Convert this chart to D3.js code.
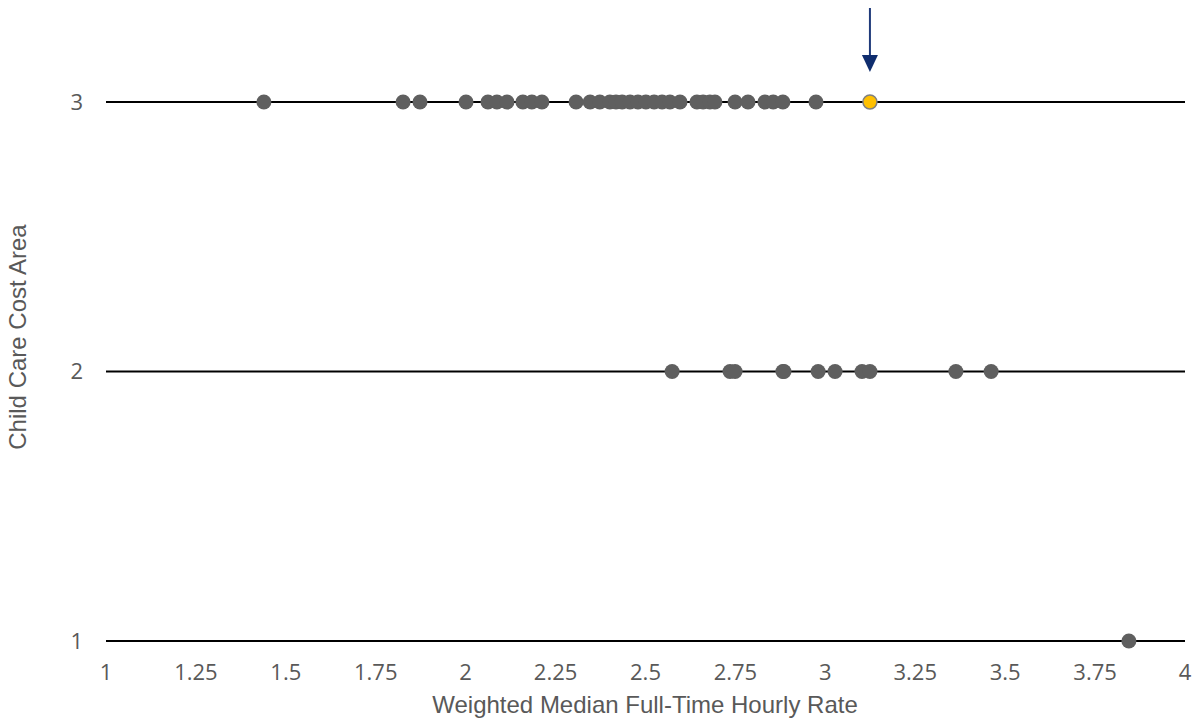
<!DOCTYPE html>
<html>
<head>
<meta charset="utf-8">
<script src="https://cdn.jsdelivr.net/npm/d3@7"></script>
<style>
  body { margin: 0; background: #fff; }
  text { fill: #595959; }
</style>
</head>
<body>
<svg id="chart" width="1199" height="725"></svg>
<script>
// values
const area3 = [1.439, 1.826, 1.873, 2.001, 2.062, 2.087, 2.115, 2.159, 2.184, 2.212,
  2.307, 2.346, 2.373, 2.401, 2.418, 2.435, 2.457, 2.479, 2.501, 2.524, 2.546, 2.568, 2.596,
  2.643, 2.660, 2.679, 2.693, 2.749, 2.785, 2.832, 2.855, 2.882, 2.974];
const area2 = [2.574, 2.735, 2.749, 2.882, 2.885, 2.980, 3.027, 3.102, 3.124, 3.363, 3.461];
const area1 = [3.844];
const highlight = { x: 3.124, y: 3 };
const xTicks = [1, 1.25, 1.5, 1.75, 2, 2.25, 2.5, 2.75, 3, 3.25, 3.5, 3.75, 4];
const yTicks = [1, 2, 3];

const svg = d3.select("#chart");

const x = d3.scaleLinear().domain([1, 4]).range([106, 1185]);
const y = d3.scaleLinear().domain([1, 3]).range([641, 102]);

// horizontal lines at each category
svg.append("g")
  .selectAll("line")
  .data(yTicks)
  .enter()
  .append("line")
  .attr("x1", x(1))
  .attr("x2", x(4))
  .attr("y1", d => y(d))
  .attr("y2", d => y(d))
  .attr("stroke", "#000")
  .attr("stroke-width", 2);

// y tick labels
svg.append("g")
  .selectAll("text")
  .data(yTicks)
  .enter()
  .append("text")
  .attr("x", 83)
  .attr("y", d => y(d))
  .attr("dy", "0.35em")
  .attr("text-anchor", "end")
  .attr("font-family", "'Open Sans', sans-serif")
  .attr("font-size", 22)
  .text(d => d);

// x tick labels
svg.append("g")
  .selectAll("text")
  .data(xTicks)
  .enter()
  .append("text")
  .attr("x", d => x(d))
  .attr("y", 680)
  .attr("text-anchor", "middle")
  .attr("font-family", "'Open Sans', sans-serif")
  .attr("font-size", 22)
  .text(d => d);

// points
const points = [];
area3.forEach(v => points.push({ x: v, y: 3 }));
area2.forEach(v => points.push({ x: v, y: 2 }));
area1.forEach(v => points.push({ x: v, y: 1 }));

svg.append("g")
  .selectAll("circle")
  .data(points)
  .enter()
  .append("circle")
  .attr("cx", d => x(d.x))
  .attr("cy", d => y(d.y))
  .attr("r", 7.5)
  .attr("fill", "#5f5f5f");

svg.append("circle")
  .attr("cx", x(highlight.x))
  .attr("cy", y(highlight.y))
  .attr("r", 7)
  .attr("fill", "#ffc000")
  .attr("stroke", "#7f7f7f")
  .attr("stroke-width", 1.5);

// arrow pointing to highlighted point
const ax = x(highlight.x);
svg.append("line")
  .attr("x1", ax).attr("x2", ax)
  .attr("y1", 8).attr("y2", 58)
  .attr("stroke", "#1f3a7a")
  .attr("stroke-width", 2);
svg.append("path")
  .attr("d", `M${ax - 8},55 L${ax + 8},55 L${ax},72 Z`)
  .attr("fill", "#0f2d6e");

// axis titles
svg.append("text")
  .attr("x", 645)
  .attr("y", 713)
  .attr("text-anchor", "middle")
  .attr("font-family", "'Liberation Sans', Arial, sans-serif")
  .attr("font-size", 24)
  .text("Weighted Median Full-Time Hourly Rate");

svg.append("text")
  .attr("transform", "translate(26,337) rotate(-90)")
  .attr("text-anchor", "middle")
  .attr("font-family", "'Liberation Sans', Arial, sans-serif")
  .attr("font-size", 24)
  .text("Child Care Cost Area");
</script>
</body>
</html>
